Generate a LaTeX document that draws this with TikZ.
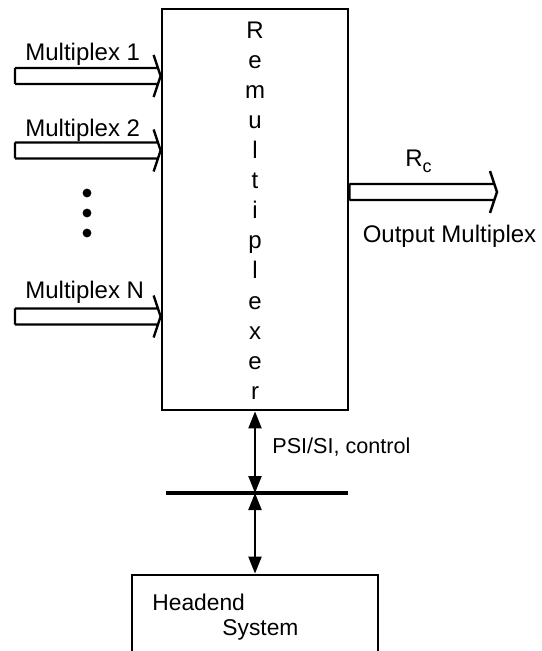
\documentclass[tikz,border=0pt]{standalone}
\usepackage{fontspec}
\setmainfont{Liberation Sans}
\usetikzlibrary{arrows.meta,calc}

\tikzset{
  fatline/.style={line width=1.2pt, line join=miter},
  ctrlarrow/.style={{Triangle[length=8.5pt,width=6.5pt]}-{Triangle[length=8.5pt,width=6.5pt]}, line width=1.1pt},
  lbl/.style={font=\fontsize{12}{14}\selectfont, inner sep=0pt},
  boxline/.style={draw, line width=1.4pt, inner sep=0pt},
}

% hollow block arrow from #1 to tip #2 (same height)
\newcommand{\fatarrow}[2]{%
  \draw[fatline] let \p1=(#1), \p2=(#2) in
    (\x1,\y1+4pt) -- (\x2-1.3pt,\y1+4pt)
    (\x1,\y1-4pt) -- (\x2-1.3pt,\y1-4pt)
    (\x1,\y1+4pt) -- (\x1,\y1-4pt)
    (\x2-3.5pt,\y1+10.5pt) -- (\x2,\y1) -- (\x2-3.5pt,\y1-10.5pt);}

\begin{document}
\begin{tikzpicture}[x=0.5pt, y=-0.5pt]
  \useasboundingbox (0,0) rectangle (541,651);
  \clip (0,0) rectangle (541,651);
  % Remultiplexer
  \node[boxline, minimum width=93pt, minimum height=200.5pt] (remux) at (255,209.5) {};
  \foreach \ch [count=\i from 0] in {R,e,m,u,l,t,i,p,l,e,x,e,r}
    \node[lbl, anchor=base] (letter\i) at (255,39+30*\i) {\ch};
  % Input multiplexes
  \coordinate (in1) at (15,76);
  \coordinate (in2) at (15,150.5);
  \coordinate (inN) at (15,316.5);
  \fatarrow{in1}{in1 -| remux.west}
  \fatarrow{in2}{in2 -| remux.west}
  \fatarrow{inN}{inN -| remux.west}
  \node[lbl, anchor=base west] (lab1) at (25,61) {Multiplex 1};
  \node[lbl, anchor=base west] (lab2) at (25,137) {Multiplex 2};
  \node[lbl, anchor=base west] (labN) at (25,299) {Multiplex N};
  \foreach \y in {193,213,233}
    \fill (87,\y) circle[radius=2.2pt];
  % Output multiplex
  \coordinate (out) at (497,192);
  \fatarrow{remux.east |- out}{out}
  \node[lbl, anchor=base west] (rate) at (405,167) {R\raisebox{-0.45ex}{\small c}};
  \node[lbl, anchor=base] (outlab) at (449.5,243) {Output Multiplex};
  % Control bus
  \coordinate (busL) at (166,493);
  \coordinate (busR) at (348,493);
  \draw[line width=1.8pt] (busL) -- (busR);
  \coordinate (busM) at (remux.south |- busL);
  \draw[ctrlarrow] (remux.south) -- (busM);
  \node[font=\fontsize{10.8}{13}\selectfont, anchor=base west, inner sep=0pt] (psi) at (272,453) {PSI/SI, control};
  % Headend system
  \node[boxline, minimum width=123pt, minimum height=62.5pt] (headend) at (255,637.5) {};
  \draw[ctrlarrow] (busM) -- (headend.north);
  \node[lbl, font=\fontsize{11.4}{13}\selectfont, anchor=base west] (hetxt) at (152,610) {Headend};
  \node[lbl, font=\fontsize{11.4}{13}\selectfont, anchor=base west] (systxt) at (222,635) {System};
\end{tikzpicture}
\end{document}
